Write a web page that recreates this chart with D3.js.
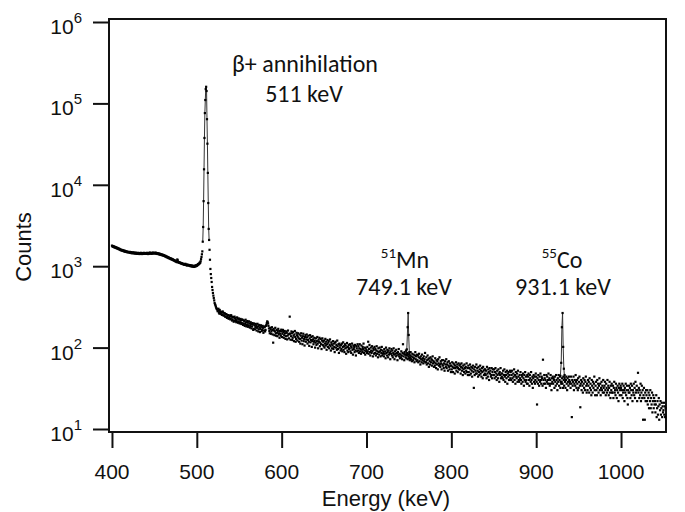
<!DOCTYPE html>
<html>
<head>
<meta charset="utf-8">
<script src="https://cdn.jsdelivr.net/npm/d3@7/dist/d3.min.js"></script>
<style>
  body { margin: 0; background: #fff; }
  svg { display: block; }
  .tick-label { font-family: "Liberation Sans", Arial, sans-serif; font-size: 21px; fill: #111; }
  .axis-title { font-family: "Liberation Sans", Arial, sans-serif; font-size: 22px; fill: #111; }
  .note { font-family: Carlito, Calibri, Lato, "Noto Sans", sans-serif; font-size: 24px; fill: #111; }
</style>
</head>
<body>
<script>
// spectrum channels: first channel energy and channel width (keV)
var startKeV = 400;
var keVPerChannel = 0.5;

// counts per channel, 400 .. 1052.5 keV, 20 channels (10 keV) per row
// (null = covered by the 511 keV peak series)
var counts = [
  1790, 1750, 1770, 1730, 1760, 1720, 1700, 1730, 1690, 1710, 1680, 1660, 1690, 1650, 1640, 1660, 1620, 1640, 1600, 1610, // 400
  1600, 1570, 1590, 1560, 1580, 1550, 1540, 1570, 1530, 1520, 1550, 1510, 1530, 1500, 1520, 1490, 1510, 1480, 1500, 1490, // 410
  1490, 1470, 1500, 1460, 1480, 1450, 1490, 1460, 1440, 1470, 1450, 1480, 1440, 1460, 1430, 1450, 1470, 1430, 1450, 1420, // 420
  1440, 1460, 1420, 1450, 1430, 1410, 1450, 1420, 1460, 1430, 1440, 1410, 1450, 1430, 1420, 1460, 1440, 1420, 1450, 1430, // 430
  1440, 1420, 1460, 1430, 1450, 1410, 1440, 1460, 1420, 1450, 1470, 1430, 1450, 1420, 1460, 1440, 1430, 1470, 1440, 1450, // 440
  1460, 1430, 1450, 1470, 1440, 1420, 1450, 1430, 1410, 1440, 1420, 1400, 1430, 1390, 1410, 1380, 1400, 1370, 1390, 1360, // 450
  1380, 1350, 1370, 1340, 1350, 1320, 1340, 1310, 1320, 1290, 1310, 1280, 1290, 1260, 1280, 1250, 1260, 1240, 1250, 1220, // 460
  1240, 1210, 1220, 1200, 1210, 1180, 1190, 1170, 1180, 1150, 1160, 1140, 1150, 1120, 1210, 1180, 1130, 1110, 1120, 1100, // 470
  1110, 1090, 1100, 1080, 1090, 1070, 1080, 1060, 1070, 1050, 1060, 1040, 1050, 1070, 1040, 1030, 1050, 1020, 1040, 1030, // 480
  1040, 1020, 1030, 1010, 1030, 1000, 1020, 1010, 990, 1020, 1000, 990, 1010, 980, 1000, 1010, 990, 1020, 1000, 1030,      // 490
  1010, 1040, 1030, 1060, 1050, 1080, 1070, 1110, 1100, 1150, 1220, 1300, 1400, 1520, null, null, null, null, null, null, // 500
  null, null, null, null, null, null, null, null, null, null, 1590, 1200, 925, 800, 716, 640, 556, 510, 469, 435,         // 510
  406, 380, 353, 340, 330, 318, 306, 298, 295, 280, 285, 300, 270, 262, 290, 275, 260, 268, 275, 252, // 520
  255, 278, 270, 248, 248, 265, 262, 240, 240, 258, 255, 232, 238, 250, 250, 226, 232, 248, 245, 222, // 530
  228, 250, 240, 215, 222, 238, 235, 208, 215, 240, 230, 212, 220, 205, 212, 235, 226, 202, 208, 228, // 540
  220, 198, 205, 225, 215, 195, 200, 222, 218, 190, 198, 215, 210, 185, 195, 220, 205, 182, 190, 212, // 550
  202, 180, 188, 210, 198, 176, 185, 205, 195, 172, 182, 200, 192, 165, 170, 198, 188, 168, 178, 195, // 560
  185, 162, 175, 196, 182, 158, 168, 190, 178, 155, 170, 188, 180, 160, 165, 185, 175, 152, 162, 182, // 570
  178, 158, 165, 185, 190, 200, 210, 205, 198, 185, 172, 160, 150, 175, 168, 148, 158, 178, 165, 145, // 580
  115, 170, 162, 142, 158, 175, 150, 140, 165, 152, 138, 160, 170, 145, 150, 132, 160, 148, 140, 166, // 590
  158, 135, 148, 165, 155, 132, 142, 160, 150, 128, 138, 158, 152, 126, 140, 162, 145, 130, 148, 240, // 600
  148, 125, 138, 158, 150, 124, 132, 155, 140, 120, 145, 160, 135, 118, 128, 152, 142, 122, 136, 150, // 610
  130, 118, 145, 128, 112, 140, 150, 122, 132, 110, 138, 148, 120, 128, 106, 135, 142, 118, 126, 145, // 620
  134, 112, 124, 140, 118, 105, 130, 142, 116, 124, 135, 102, 120, 138, 126, 110, 118, 132, 122, 100, // 630
  115, 130, 108, 120, 135, 112, 98, 125, 118, 132, 104, 115, 128, 110, 96, 122, 130, 108, 118, 104,   // 640
  122, 100, 112, 128, 106, 118, 94, 110, 124, 102, 115, 120, 98, 108, 126, 104, 92, 116, 110, 98,     // 650
  106, 120, 96, 112, 102, 88, 115, 118, 100, 108, 94, 122, 104, 96, 110, 86, 112, 100, 106, 92,       // 660
  108, 96, 112, 90, 102, 116, 94, 104, 88, 110, 98, 106, 84, 100, 114, 92, 102, 88, 108, 96,          // 670
  98, 110, 90, 104, 86, 100, 112, 94, 82, 106, 96, 102, 88, 108, 92, 80, 104, 98, 90, 110,            // 680
  92, 104, 86, 98, 110, 90, 96, 84, 106, 94, 88, 102, 96, 112, 86, 92, 100, 82, 98, 90,               // 690
  94, 86, 102, 90, 118, 84, 96, 108, 88, 80, 100, 92, 86, 104, 90, 78, 98, 94, 84, 102,               // 700
  86, 96, 80, 92, 104, 84, 90, 76, 98, 88, 82, 100, 90, 78, 94, 86, 102, 80, 92, 84,                  // 710
  88, 78, 96, 84, 90, 74, 100, 86, 80, 94, 88, 76, 92, 82, 98, 86, 72, 90, 84, 96,                    // 720
  80, 92, 76, 86, 98, 82, 72, 90, 84, 78, 94, 80, 86, 70, 88, 82, 96, 78, 84, 74,                     // 730
  82, 76, 90, 80, 72, 86, 110, 78, 84, 70, 88, 82, 76, 92, 74, 80, 86, 72, 82, 78,                    // 740
  74, 84, 70, 80, 88, 72, 78, 68, 84, 76, 70, 82, 74, 66, 80, 88, 72, 78, 68, 82,                     // 750
  70, 80, 66, 76, 84, 68, 74, 62, 78, 72, 66, 82, 70, 74, 64, 78, 68, 72, 86, 66,                     // 760
  66, 76, 62, 70, 80, 64, 72, 58, 74, 68, 62, 76, 66, 72, 60, 70, 78, 64, 68, 58,                     // 770
  66, 60, 74, 64, 56, 70, 62, 68, 54, 72, 64, 60, 76, 62, 58, 68, 64, 54, 70, 62,                     // 780
  60, 70, 56, 64, 52, 68, 62, 58, 72, 56, 62, 66, 52, 60, 68, 58, 54, 64, 60, 50,                     // 790
  60, 54, 66, 58, 50, 64, 56, 62, 48, 60, 56, 66, 52, 58, 62, 50, 56, 64, 54, 60,                     // 800
  54, 62, 48, 58, 64, 52, 56, 46, 60, 54, 50, 62, 56, 48, 58, 52, 64, 50, 56, 46,                     // 810
  60, 50, 56, 46, 62, 54, 48, 58, 52, 44, 56, 60, 50, 32, 54, 46, 58, 52, 48, 62,                     // 820
  48, 56, 52, 44, 58, 50, 46, 54, 60, 48, 52, 44, 56, 50, 42, 58, 52, 46, 54, 48,                     // 830
  54, 46, 52, 42, 58, 48, 44, 54, 50, 40, 56, 48, 52, 44, 46, 56, 42, 50, 54, 46,                     // 840
  46, 54, 42, 50, 56, 44, 48, 40, 52, 46, 42, 54, 48, 38, 50, 46, 56, 42, 48, 44,                     // 850
  48, 42, 52, 40, 46, 54, 44, 38, 50, 46, 42, 52, 36, 48, 44, 50, 40, 46, 52, 42,                     // 860
  50, 40, 46, 52, 42, 38, 48, 44, 54, 40, 46, 36, 50, 44, 42, 48, 38, 52, 44, 40,                     // 870
  38, 46, 42, 50, 40, 36, 46, 44, 38, 48, 42, 34, 46, 40, 50, 38, 44, 40, 36, 46,                     // 880
  36, 44, 48, 40, 34, 46, 42, 38, 50, 40, 36, 44, 32, 42, 46, 38, 44, 36, 40, 48,                     // 890
  44, 38, 20, 42, 36, 46, 40, 34, 44, 38, 48, 40, 36, 44, 42, 34, 71, 40, 36, 46,                     // 900
  42, 36, 40, 32, 46, 38, 44, 36, 40, 48, 36, 42, 34, 40, 46, 36, 30, 42, 38, 44,                     // 910
  36, 42, 40, 32, 44, 38, 34, 46, 40, 36, 30, 42, 38, 46, 34, 40, 44, 32, 38, 36,                     // 920
  38, 42, 36, 32, 44, 40, 34, 46, 38, 32, 40, 44, 36, 30, 42, 38, 34, 44, 40, 36,                     // 930
  38, 32, 44, 36, 14, 40, 34, 38, 44, 30, 36, 40, 34, 46, 38, 32, 40, 36, 30, 42,                     // 940
  32, 38, 44, 34, 18.5, 36, 40, 30, 38, 34, 28, 42, 36, 32, 40, 30, 38, 44, 34, 28,                   // 950
  36, 30, 40, 34, 38, 28, 42, 32, 36, 30, 26, 40, 34, 28, 38, 32, 36, 44, 30, 26,                     // 960
  34, 38, 30, 26, 40, 32, 36, 28, 34, 42, 30, 36, 26, 32, 38, 30, 34, 28, 40, 32,                     // 970
  28, 34, 38, 30, 26, 36, 32, 28, 40, 30, 34, 26, 32, 38, 28, 24, 34, 30, 36, 28,                     // 980
  28, 34, 24, 32, 38, 28, 30, 26, 36, 32, 24, 30, 34, 28, 22, 32, 36, 26, 30, 34,                     // 990
  32, 26, 30, 36, 24, 28, 34, 30, 22, 32, 28, 36, 26, 30, 34, 24, 20, 30, 28, 34,                     // 1000
  28, 32, 24, 36, 30, 26, 34, 22, 30, 28, 36, 26, 32, 24, 38, 28, 30, 34, 22, 30,                     // 1010
  49, 28, 32, 24, 30, 26, 36, 22, 28, 34, 24, 30, 13, 26, 32, 24, 13, 28, 22, 30,                     // 1020
  26, 22, 30, 20, 24, 28, 18, 26, 22, 30, 18, 24, 20, 28, 16, 22, 26, 18, 24, 20,                     // 1030
  22, 16, 20, 26, 14, 18, 22, 15, 19, 24, 13, 20, 17, 22, 15, 18, 21, 14, 19, 16,                     // 1040
  17, 21, 15, 19, 14, 18                                                                              // 1050
];

// peaks drawn as connected markers
var peak511Kev = [507, 507.5, 508, 508.5, 509, 509.5, 510, 510.5, 511, 511.5, 512, 512.5, 513, 513.5, 514, 514.5];
var peak511Counts = [2000, 3030, 6300, 15500, 37600, 76000, 110000, 150000, 160000, 142000, 64000, 32000, 14000, 5970, 2870, 2100];
var peakMnKev = [746.5, 747.5, 748.5, 749.1, 749.7, 750.5, 751.5];
var peakMnCounts = [82, 95, 178, 266, 143, 88, 75];
var peakCoKev = [928.5, 929.5, 930.3, 931.1, 931.8, 932.6, 933.5];
var peakCoCounts = [45, 65, 178, 266, 102, 55, 42];

// axis ticks
var xTicks = [400, 500, 600, 700, 800, 900, 1000];
var yTickExponents = [1, 2, 3, 4, 5, 6];

// set the dimensions and margins of the graph
var margin = {top: 19, right: 19, bottom: 80, left: 109},
    width = 685 - margin.left - margin.right,
    height = 512 - margin.top - margin.bottom;

var x = d3.scaleLinear()
    .domain([396.5, 1053])
    .range([0, width]);

// decade 10^1 .. 10^6, frame sits 3px beyond both decades
var y = d3.scaleLog()
    .domain([1e1, 1e6])
    .range([height - 3, 3]);

var svg = d3.select("body").append("svg")
    .attr("width", 685)
    .attr("height", 512)
    .append("g")
    .attr("transform", "translate(" + margin.left + "," + margin.top + ")");

// build point lists
var continuum = [];
counts.forEach(function(c, i) {
  if (c !== null) continuum.push({e: startKeV + i * keVPerChannel, c: c});
});
function pairs(es, cs) {
  return es.map(function(e, i) { return {e: e, c: cs[i]}; });
}
var peaks = [pairs(peak511Kev, peak511Counts), pairs(peakMnKev, peakMnCounts), pairs(peakCoKev, peakCoCounts)];

// x axis
var xAxis = svg.append("g")
    .attr("transform", "translate(0," + height + ")")
    .call(d3.axisBottom(x).tickValues(xTicks).tickSize(16).tickSizeOuter(0).tickFormat(""));
xAxis.select(".domain").remove();
xAxis.selectAll(".tick line").attr("stroke", "#111").attr("stroke-width", 2);

svg.selectAll(".x-label")
    .data(xTicks)
    .enter().append("text")
    .attr("class", "tick-label")
    .attr("x", function(d) { return x(d); })
    .attr("y", height + 47)
    .attr("text-anchor", "middle")
    .text(function(d) { return d; });

// y axis
var yAxis = svg.append("g")
    .call(d3.axisLeft(y).tickValues(yTickExponents.map(function(p) { return Math.pow(10, p); }))
      .tickSize(16).tickSizeOuter(0).tickFormat(""));
yAxis.select(".domain").remove();
yAxis.selectAll(".tick line").attr("stroke", "#111").attr("stroke-width", 2);

var yLab = svg.selectAll(".y-label")
    .data(yTickExponents)
    .enter().append("text")
    .attr("class", "tick-label")
    .attr("x", -27)
    .attr("y", function(d) { return y(Math.pow(10, d)) + 12; })
    .attr("text-anchor", "end");
yLab.append("tspan").text("10");
yLab.append("tspan")
    .attr("dy", -11)
    .style("font-size", "15px")
    .text(function(d) { return d; });

// frame
svg.append("rect")
    .attr("width", width)
    .attr("height", height)
    .attr("fill", "none")
    .attr("stroke", "#111")
    .attr("stroke-width", 2);

// peak lines
var line = d3.line()
    .x(function(d) { return x(d.e); })
    .y(function(d) { return y(d.c); });

svg.selectAll(".peak")
    .data(peaks)
    .enter().append("path")
    .attr("class", "peak")
    .attr("d", line)
    .attr("fill", "none")
    .attr("stroke", "#333")
    .attr("stroke-width", 1);

// markers
var allPoints = continuum.concat(peaks[0], peaks[1], peaks[2]);
svg.selectAll(".dot")
    .data(allPoints)
    .enter().append("rect")
    .attr("class", "dot")
    .attr("x", function(d) { return x(d.e) - 1.1; })
    .attr("y", function(d) { return y(d.c) - 1.1; })
    .attr("width", 2.2)
    .attr("height", 2.2)
    .attr("fill", "#000");

// annotations
svg.append("text").attr("class", "note")
    .attr("x", 305 - margin.left).attr("y", 72 - margin.top)
    .attr("text-anchor", "middle")
    .text("\u03b2+ annihilation");
svg.append("text").attr("class", "note")
    .attr("x", 304 - margin.left).attr("y", 102 - margin.top)
    .attr("text-anchor", "middle")
    .text("511 keV");

function isotope(cx, mass, sym) {
  var t = svg.append("text").attr("class", "note")
      .attr("x", cx - margin.left).attr("y", 268 - margin.top)
      .attr("text-anchor", "middle");
  t.append("tspan").attr("dy", -10).style("font-size", "15px").text(mass);
  t.append("tspan").attr("dy", 10).text(sym);
}
isotope(405, "51", "Mn");
isotope(562, "55", "Co");

svg.append("text").attr("class", "note")
    .attr("x", 404 - margin.left).attr("y", 295 - margin.top)
    .attr("text-anchor", "middle")
    .text("749.1 keV");
svg.append("text").attr("class", "note")
    .attr("x", 563 - margin.left).attr("y", 295 - margin.top)
    .attr("text-anchor", "middle")
    .text("931.1 keV");

// axis titles
svg.append("text")
    .attr("class", "axis-title")
    .attr("x", 386 - margin.left)
    .attr("y", 506 - margin.top)
    .attr("text-anchor", "middle")
    .text("Energy (keV)");

svg.append("text")
    .attr("class", "axis-title")
    .attr("transform", "translate(" + (31 - margin.left) + "," + (247 - margin.top) + ") rotate(-90)")
    .attr("text-anchor", "middle")
    .text("Counts");
</script>
</body>
</html>
